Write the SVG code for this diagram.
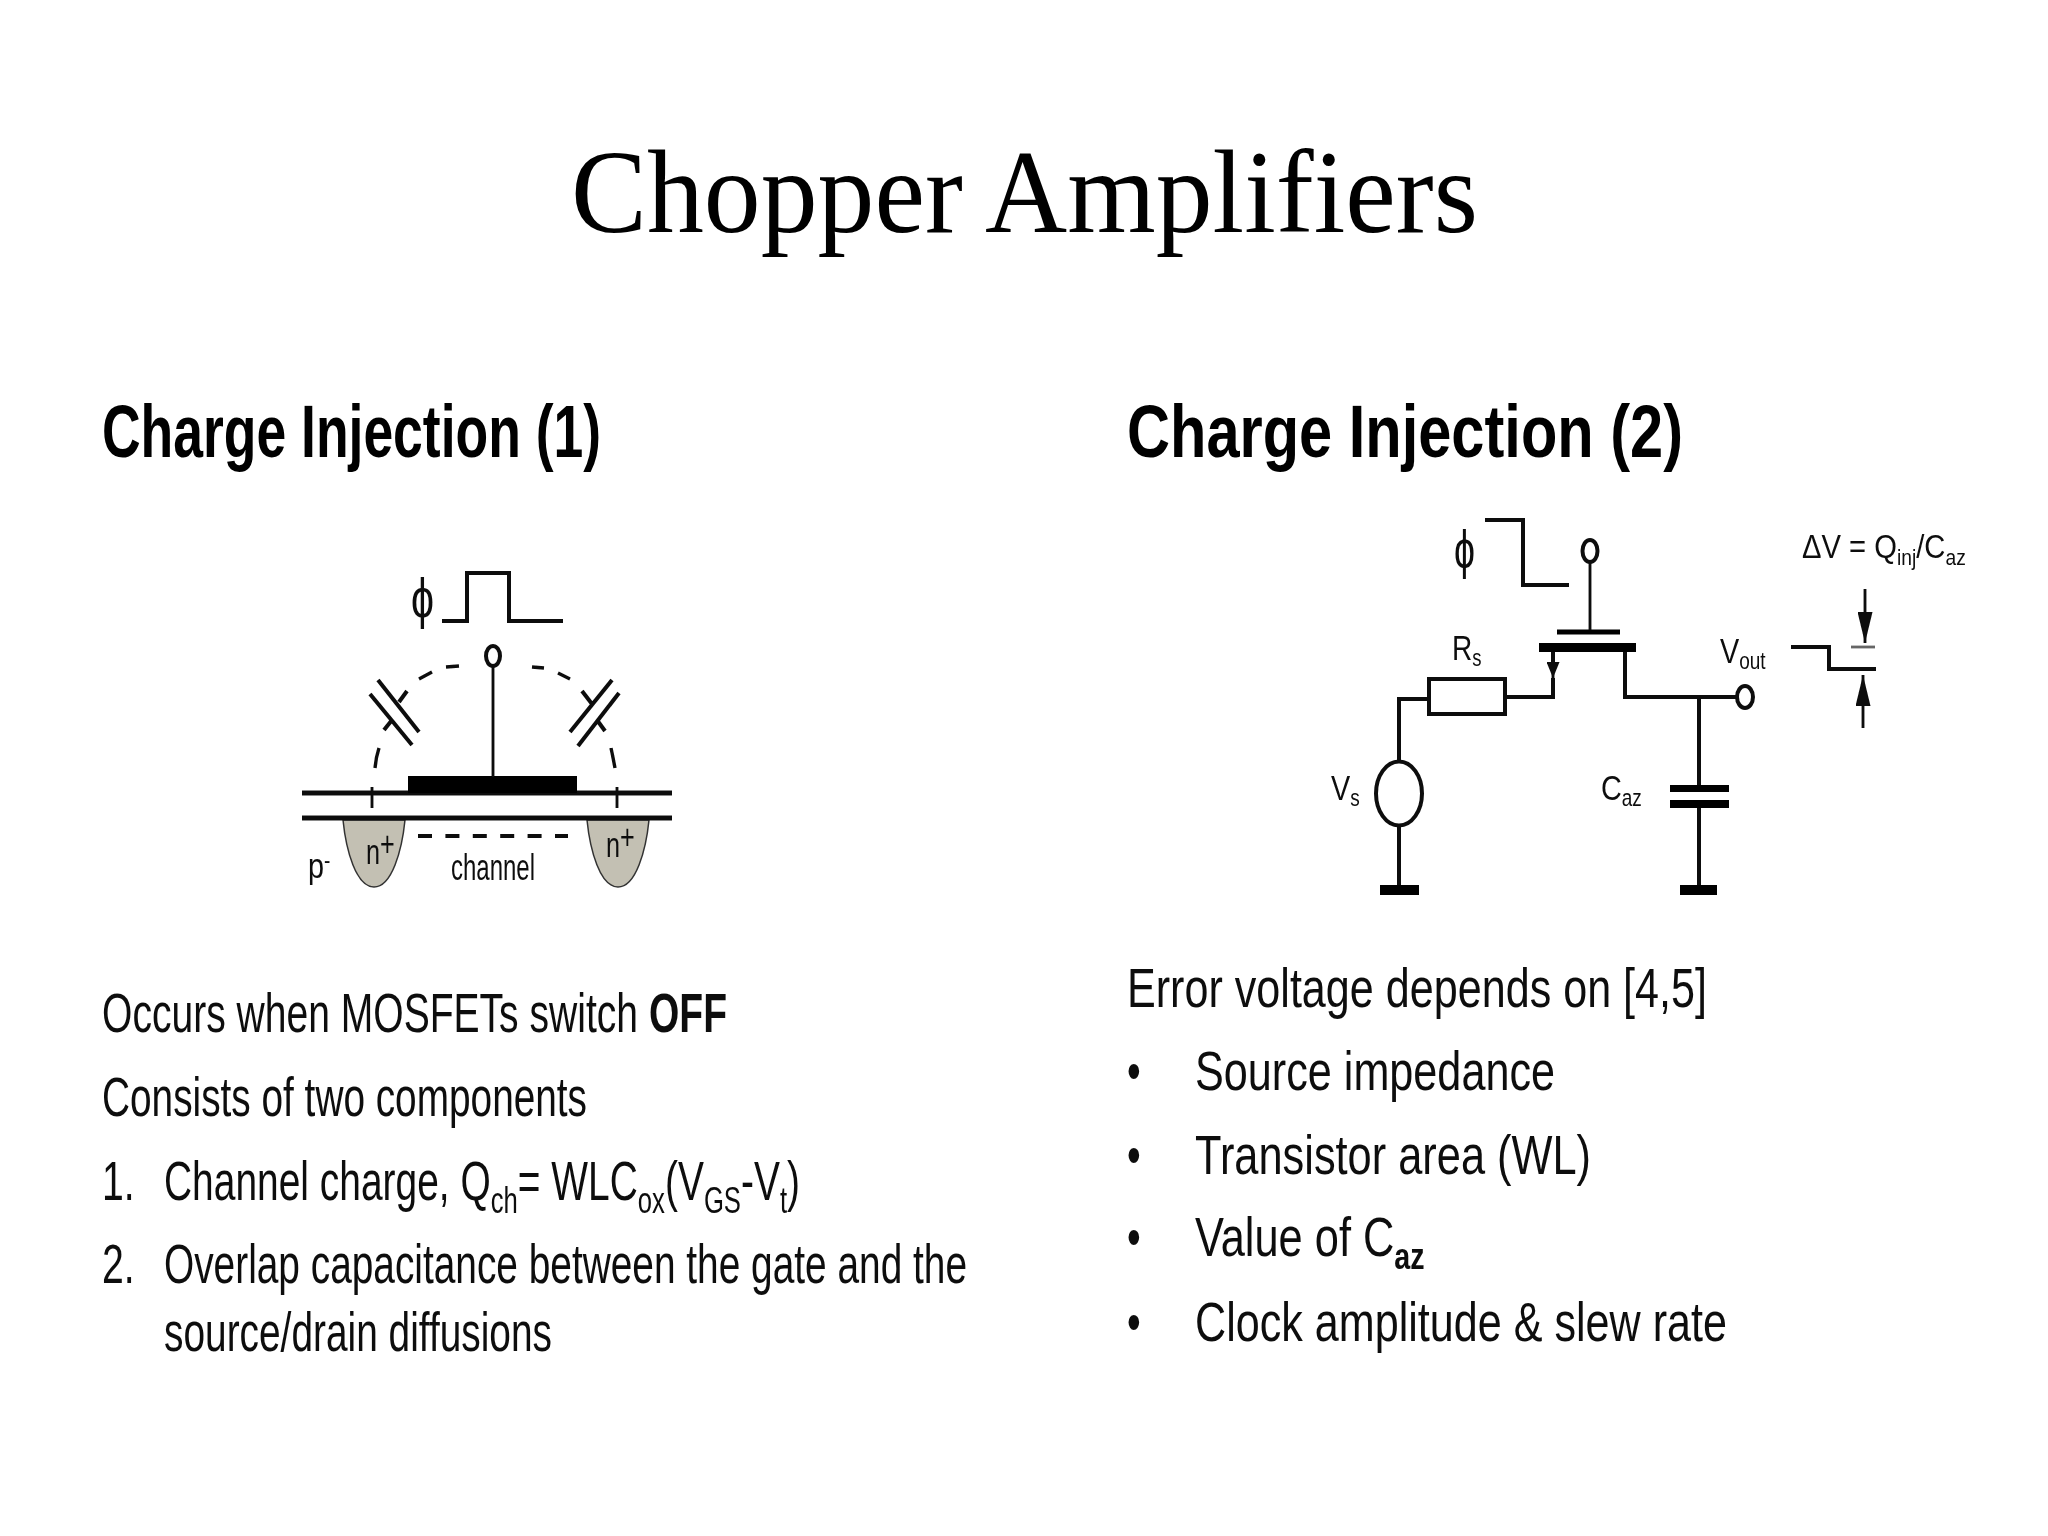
<svg xmlns="http://www.w3.org/2000/svg" width="2048" height="1536" viewBox="0 0 2048 1536">
<style>
text{font-family:"Liberation Sans",Arial,sans-serif;fill:#111}
.t{font-family:"Liberation Serif","Times New Roman",serif;font-size:118px;fill:#000}
.h{font-weight:bold;font-size:74px;fill:#000}
.b{font-size:56px}
.l{font-size:36px}
.s{font-size:66%}
.w{fill:none;stroke:#111;stroke-width:4}
.n{fill:none;stroke:#111;stroke-width:2.8}
.well{fill:#c3c0b3;stroke:#333;stroke-width:1.5}
.k{fill:#000}
</style>
<defs>
<filter id="soft" x="-2%" y="-2%" width="104%" height="104%"><feGaussianBlur stdDeviation="0.6"/></filter>
<marker id="ah" viewBox="0 0 10 10" refX="10" refY="5" markerWidth="16" markerHeight="13" markerUnits="userSpaceOnUse" orient="auto" preserveAspectRatio="none"><path d="M0 0L10 5L0 10z" fill="#111"/></marker>
<marker id="ahb" viewBox="0 0 10 10" refX="10" refY="5" markerWidth="31" markerHeight="15" markerUnits="userSpaceOnUse" orient="auto" preserveAspectRatio="none"><path d="M0 0L10 5L0 10z" fill="#111"/></marker>
</defs>
<rect width="2048" height="1536" fill="#fff"/>
<text class="t" x="571" y="232" textLength="907" lengthAdjust="spacingAndGlyphs">Chopper Amplifiers</text>

<g filter="url(#soft)">
<g id="left-heading"><text class="h" x="102" y="457" textLength="499" lengthAdjust="spacingAndGlyphs">Charge Injection (1)</text></g>
<g id="right-heading"><text class="h" x="1127" y="457" textLength="556" lengthAdjust="spacingAndGlyphs">Charge Injection (2)</text></g>

<g id="mos-cross-section">
<path class="well" d="M343 820C346 850 356 887 374 887C392 887 402 850 405 820Z"/>
<path class="well" d="M587 820C590 850 600 887 618 887C636 887 646 850 649 820Z"/>
<path class="w" style="stroke-width:5" d="M302 793H672M302 818H672"/>
<rect class="k" x="408" y="776" width="169" height="17"/>
<path class="n" d="M372 787V808M617 787V808M493 667V777"/>
<path class="w" d="M418 836H568" stroke-dasharray="14 13.4"/>
<path class="n" style="stroke-width:3.4" d="M375 768Q376 757 379 748M419 679L432 672M446 667L459 666M532 667L544 668M558 673L570 679M611 748Q613 757 615 768"/>
<path class="w" d="M370 694L412 745M378 680L419 732M399 702L407 691M384 730L392 720M570 732L612 680M578 746L619 693M582 691L592 704M597 720L605 731"/>
<path class="w" d="M442 621H467V573H509V621H563"/>
<ellipse class="w" cx="493" cy="656" rx="7" ry="10"/>
<text class="l" style="font-size:56px" x="411" y="617" textLength="23" lengthAdjust="spacingAndGlyphs">ϕ</text>
<text class="l" transform="translate(308 878) scale(.8 1)">p<tspan dy="-10" class="s">-</tspan></text>
<text class="l" transform="translate(366 864) scale(.7 1)">n<tspan dy="-8">+</tspan></text>
<text class="l" transform="translate(606 857) scale(.7 1)">n<tspan dy="-8">+</tspan></text>
<text class="l" x="451" y="880" textLength="84" lengthAdjust="spacingAndGlyphs">channel</text>
</g>

<g id="connectors">
<path class="w" d="M1485 520H1523V585H1569"/>
<path class="n" d="M1590 562V632"/>
<path class="w" d="M1553 652V662M1553 678V697H1505M1429 699H1399V762M1399 825V885M1625 652V697H1737M1699 697V785M1699 808V885"/>
<path class="w" d="M1791 647H1829V669H1876"/>
<path class="n" d="M1851 647H1875" style="stroke:#666"/>
<path class="n" d="M1553 662V678" marker-end="url(#ah)"/>
<path class="n" d="M1865 589V643" marker-end="url(#ahb)"/>
<path class="n" d="M1863 728V675" marker-end="url(#ahb)"/>
</g>

<g id="switch-transistor">
<rect class="k" x="1557" y="629.500" width="63" height="5"/>
<rect class="k" x="1539" y="643" width="97" height="9"/>
<ellipse class="w" cx="1590" cy="551" rx="7.500" ry="11"/>
<text class="l" style="font-size:54px" x="1454" y="568" textLength="21" lengthAdjust="spacingAndGlyphs">ϕ</text>
</g>
<g id="rs"><rect class="w" x="1429" y="679" width="76" height="35"/>
<text class="l" transform="translate(1452 660) scale(.78 1)">R<tspan dy="6" class="s">s</tspan></text></g>
<g id="vs"><ellipse class="w" cx="1399" cy="793.500" rx="23" ry="32"/>
<rect class="k" x="1380" y="885" width="39" height="10"/>
<text class="l" transform="translate(1331 800) scale(.8 1)">V<tspan dy="6" class="s">s</tspan></text></g>
<g id="caz"><rect class="k" x="1670" y="785" width="59" height="7"/><rect class="k" x="1670" y="800" width="59" height="8"/>
<rect class="k" x="1680" y="885" width="37" height="10"/>
<text class="l" transform="translate(1601 800) scale(.8 1)">C<tspan dy="6" class="s">az</tspan></text></g>
<g id="vout"><ellipse class="w" cx="1745" cy="697" rx="8" ry="11"/>
<text class="l" transform="translate(1720 663) scale(.8 1)">V<tspan dy="6" class="s">out</tspan></text></g>
<g id="delta-v"><text class="l" style="font-size:33px" transform="translate(1802 558) scale(.885 1)">ΔV = Q<tspan dy="7" class="s">inj</tspan><tspan dy="-7">/C</tspan><tspan dy="7" class="s">az</tspan></text></g>

<g id="left-text">
<text class="b" x="102" y="1032" textLength="536" lengthAdjust="spacingAndGlyphs">Occurs when MOSFETs switch</text>
<text class="b" x="654" y="1032" textLength="78" lengthAdjust="spacingAndGlyphs" font-weight="bold" transform="translate(-5 0)">OFF</text>
<text class="b" x="102" y="1116" textLength="485" lengthAdjust="spacingAndGlyphs">Consists of two components</text>
<text class="b" transform="translate(102 1200) scale(.7 1)">1.</text>
<text class="b" transform="translate(164 1200) scale(.695 1)">Channel charge, Q<tspan dy="13" class="s">ch</tspan><tspan dy="-13">= WLC</tspan><tspan dy="13" class="s">ox</tspan><tspan dy="-13">(V</tspan><tspan dy="13" class="s">GS</tspan><tspan dy="-13">-V</tspan><tspan dy="13" class="s">t</tspan><tspan dy="-13">)</tspan></text>
<text class="b" transform="translate(102 1283) scale(.7 1)">2.</text>
<text class="b" x="164" y="1283" textLength="803" lengthAdjust="spacingAndGlyphs">Overlap capacitance between the gate and the</text>
<text class="b" x="164" y="1351" textLength="388" lengthAdjust="spacingAndGlyphs">source/drain diffusions</text>
</g>
<g id="right-text">
<text class="b" x="1127" y="1007" textLength="580" lengthAdjust="spacingAndGlyphs">Error voltage depends on [4,5]</text>
<text class="b" transform="translate(1127 1090) scale(.7 1)">•</text><text class="b" x="1195" y="1090" textLength="360" lengthAdjust="spacingAndGlyphs">Source impedance</text>
<text class="b" transform="translate(1127 1174) scale(.7 1)">•</text><text class="b" x="1195" y="1174" textLength="396" lengthAdjust="spacingAndGlyphs">Transistor area (WL)</text>
<text class="b" transform="translate(1127 1256) scale(.7 1)">•</text><text class="b" transform="translate(1195 1256) scale(.775 1)">Value of C<tspan dy="13" class="s" font-weight="bold">az</tspan></text>
<text class="b" transform="translate(1127 1341) scale(.7 1)">•</text><text class="b" x="1195" y="1341" textLength="532" lengthAdjust="spacingAndGlyphs">Clock amplitude &amp; slew rate</text>
</g>
</g>
</svg>
